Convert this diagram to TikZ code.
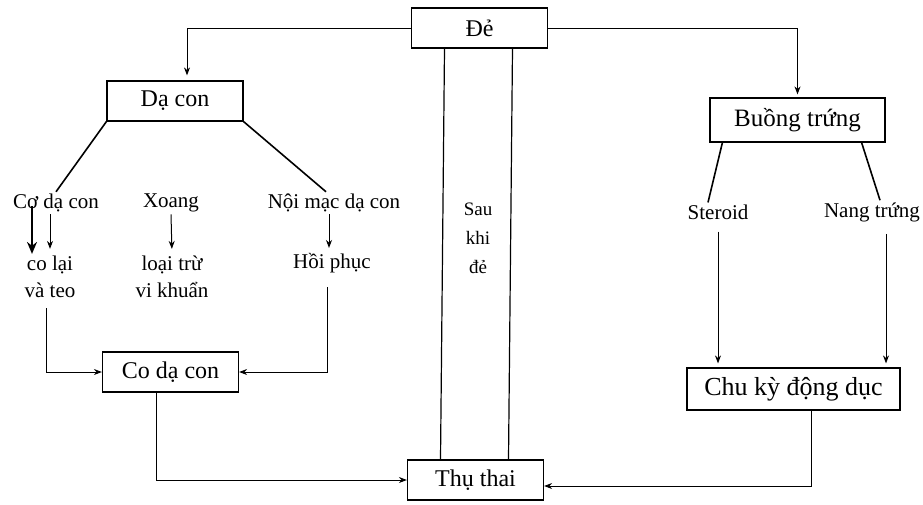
\documentclass[tikz,border=0pt]{standalone}
\usepackage{fontspec}
\setmainfont{Liberation Serif}
\usetikzlibrary{positioning,arrows.meta}

\begin{document}
\begin{tikzpicture}[
  x=1pt, y=-1pt,
  box/.style={draw,line width=1.2pt,minimum width=136pt,minimum height=40pt,inner sep=3pt,font=\fontsize{24}{28}\selectfont},
  lbl/.style={align=center,inner sep=2pt,font=\fontsize{21}{27}\selectfont},
  arr/.style={-{Stealth[length=8pt,width=6pt]},line width=1pt},
  leg/.style={line width=1.6pt}
]
\useasboundingbox (0,0) rectangle (923,504);

% boxes
\node[box] (de) at (479.5,28) {Đẻ};
\node[box] (dacon) at (175,101) {Dạ con};
\node[box] (codacon) at (170.5,372) {Co dạ con};
\node[box] (thuthai) at (475.5,480) {Thụ thai};
\node[box,minimum width=175pt,minimum height=44pt,font=\fontsize{25}{28}\selectfont] (buong) at (797.5,120) {Buồng trứng};
\node[box,minimum width=213pt,minimum height=42pt,font=\fontsize{26}{28}\selectfont] (chuky) at (793.5,389) {Chu kỳ động dục};

% labels
\node[lbl] (coc) at (56,203) {Cơ dạ con};
\node[lbl] (xoang) at (171,203) {Xoang};
\node[lbl] (noimac) at (334,203) {Nội mạc dạ con};
\node[lbl] (colai) at (50,277) {co lại\\và teo};
\node[lbl] (loaitru) at (172,277) {loại trừ\\vi khuẩn};
\node[lbl] (hoiphuc) at (332,263) {Hồi phục};
\node[lbl,font=\fontsize{19}{29}\selectfont] (sau) at (478,238) {Sau\\khi\\đẻ};
\node[lbl] (steroid) at (718,212) {Steroid};
\node[lbl] (nang) at (872,212) {Nang trứng};

% from the birth box
\draw[arr,shorten >=5pt] (de.west) -| ([xshift=12pt]dacon.north);
\draw[arr,shorten >=3pt] (de.east) -| (buong.north);
\draw[line width=1.2pt] ([xshift=-35pt]de.south) -- ([xshift=-35pt]thuthai.north);
\draw[line width=1.2pt] ([xshift=33pt]de.south) -- ([xshift=33pt]thuthai.north);

% branches
\draw[leg] (dacon.south west) -- (coc.north);
\draw[leg] (dacon.south east) -- ([xshift=-8pt]noimac.north);
\draw[leg] ([xshift=13pt]buong.south west) -- ([xshift=-10pt]steroid.north);
\draw[leg] ([xshift=-24pt]buong.south east) -- ([xshift=8pt]nang.north);

% uterus side
\draw[-{Stealth[length=12pt,width=10pt]},line width=1.8pt] ([xshift=-24pt,yshift=-3pt]coc.center) -- ([xshift=-18pt]colai.north);
\draw[arr,shorten >=5pt] ([xshift=-6pt]coc.south) -- (colai.north);
\draw[arr,shorten >=5pt] (xoang.south) -- (loaitru.north);
\draw[arr,shorten >=3pt] ([xshift=-5pt]noimac.south) -- ([xshift=-3pt]hoiphuc.north);
\draw[arr,shorten <=8pt] ([xshift=-4pt]colai.south) |- (codacon.west);
\draw[arr,shorten <=12pt] ([xshift=-5pt]hoiphuc.south) |- (codacon.east);
\draw[arr] ([xshift=-14pt]codacon.south) |- (thuthai.west);

% ovary side
\draw[arr,shorten <=10pt,shorten >=4pt] (steroid.south) -- (steroid.south |- chuky.north);
\draw[arr,shorten <=10pt,shorten >=4pt] ([xshift=14pt]nang.south) -- ([xshift=14pt]nang.south |- chuky.north);
\draw[arr] ([xshift=18pt]chuky.south) |- ([yshift=-6pt]thuthai.east);
\end{tikzpicture}
\end{document}
